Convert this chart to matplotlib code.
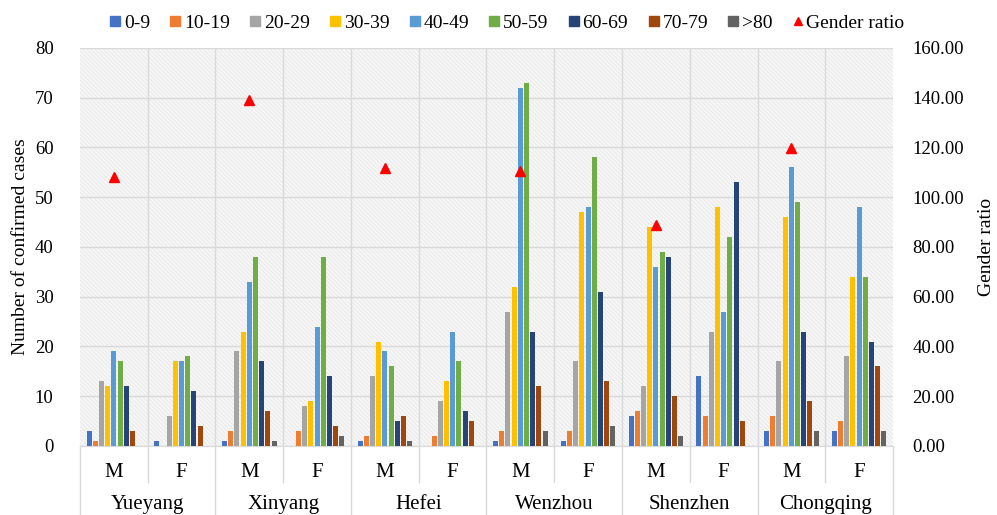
import matplotlib
matplotlib.use("Agg")
import matplotlib.pyplot as plt
import numpy as np
from matplotlib.lines import Line2D
from matplotlib.patches import Rectangle

plt.rcParams['font.family'] = ['Liberation Serif', 'DejaVu Serif']
plt.rcParams['hatch.linewidth'] = 0.5

cities = ["Yueyang", "Xinyang", "Hefei", "Wenzhou", "Shenzhen", "Chongqing"]
sexes = ["M", "F"]
age_groups = ["0-9", "10-19", "20-29", "30-39", "40-49", "50-59", "60-69", "70-79", ">80"]

# rows: Yueyang M, Yueyang F, Xinyang M, Xinyang F, ... ; columns: age groups
counts = [
    [3, 1, 13, 12, 19, 17, 12, 3, 0],
    [1, 0, 6, 17, 17, 18, 11, 4, 0],
    [1, 3, 19, 23, 33, 38, 17, 7, 1],
    [0, 3, 8, 9, 24, 38, 14, 4, 2],
    [1, 2, 14, 21, 19, 16, 5, 6, 1],
    [0, 2, 9, 13, 23, 17, 7, 5, 0],
    [1, 3, 27, 32, 72, 73, 23, 12, 3],
    [1, 3, 17, 47, 48, 58, 31, 13, 4],
    [6, 7, 12, 44, 36, 39, 38, 10, 2],
    [14, 6, 23, 48, 27, 42, 53, 5, 0],
    [3, 6, 17, 46, 56, 49, 23, 9, 3],
    [3, 5, 18, 34, 48, 34, 21, 16, 3],
]
gender_ratio = [108.1, 139.0, 111.8, 110.6, 88.8, 119.6]

colors = ["#4472C4", "#ED7D31", "#A5A5A5", "#FFC000", "#5B9BD5",
          "#70AD47", "#264478", "#9E480E", "#636363"]

fig = plt.figure(figsize=(9.97, 5.15), dpi=100)
ax = fig.add_axes([0.0802, 0.134, 0.8155, 0.7728])
ax2 = ax.twinx()

n_cat = len(counts)
x = np.arange(n_cat)
pitch = 0.0915
width = 0.074
data = np.array(counts)
ax.set_zorder(2)
ax2.set_zorder(3)
ax.patch.set_visible(False)
ax2.patch.set_visible(False)

# hatched background (behind everything)
bg = fig.add_axes(ax.get_position(), zorder=0)
bg.set_xticks([]); bg.set_yticks([])
for s in bg.spines.values():
    s.set_visible(False)
bg.add_patch(Rectangle((0, 0), 1, 1, transform=bg.transAxes, facecolor="#f7f7f7",
                       edgecolor="#e3e3e3", hatch="\\\\\\\\\\\\\\\\", linewidth=0))

for j, (lab, c) in enumerate(zip(age_groups, colors)):
    offs = (j - 4) * pitch
    ax.bar(x + offs, data[:, j], width=width, color=c, label=lab, zorder=3)

ax.set_xlim(-0.5, n_cat - 0.5)
ax.set_ylim(0, 80)
ax.set_yticks(np.arange(0, 81, 10))
ax.tick_params(axis='y', length=0, labelsize=13.5, pad=19)
ax.set_ylabel("Number of confirmed cases", fontsize=14, labelpad=4)
ax.yaxis.grid(True, color="#d9d9d9", linewidth=1.0, zorder=0)
for b in np.arange(0.5, n_cat - 0.5, 1):
    ax.axvline(b, color="#d9d9d9", linewidth=1.0, zorder=1)
ax.set_axisbelow(True)

ax.set_xticks(x)
ax.set_xticklabels([sexes[i % 2] for i in range(n_cat)], fontsize=15)
ax.tick_params(axis='x', length=0, pad=12)

for s in ["top", "right", "left"]:
    ax.spines[s].set_visible(False)
ax.spines["bottom"].set_color("#d9d9d9")
for s in ax2.spines.values():
    s.set_visible(False)

# separators below the axis
trans = ax.get_xaxis_transform()
for k in range(n_cat + 1):
    xb = k - 0.5
    if k % 2 == 0:
        y0 = -0.17
    else:
        y0 = -0.09
    ax.add_line(Line2D([xb, xb], [0, y0], transform=trans, color="#d9d9d9",
                       linewidth=1.0, clip_on=False))
for i, city in enumerate(cities):
    ax.text(2 * i + 0.5, -0.147, city, transform=trans, ha="center", va="center",
            fontsize=15)

# gender ratio markers
ax2.plot(x[::2], gender_ratio, linestyle="none", marker="^", color="#FF0000",
         markersize=7, label="Gender ratio", zorder=5)
ax2.set_ylim(0, 160)
ax2.set_yticks(np.arange(0, 161, 20))
ax2.set_yticklabels([f"{v:.2f}" for v in np.arange(0, 161, 20)])
ax2.tick_params(axis='y', length=0, labelsize=13.5, pad=14)
ax2.set_ylabel("Gender ratio", fontsize=14, labelpad=10)

handles = [Line2D([], [], linestyle="none", marker="s", markersize=7,
                  color=c, label=lab) for lab, c in zip(age_groups, colors)]
handles.append(Line2D([], [], linestyle="none", marker="^", markersize=6,
                      color="#FF0000", label="Gender ratio"))
fig.legend(handles=handles, loc="center", bbox_to_anchor=(0.508, 0.955), ncol=10,
           frameon=False, fontsize=14, handlelength=0.7, handletextpad=0.1,
           columnspacing=0.95)

fig.savefig("out.png", dpi=100)
